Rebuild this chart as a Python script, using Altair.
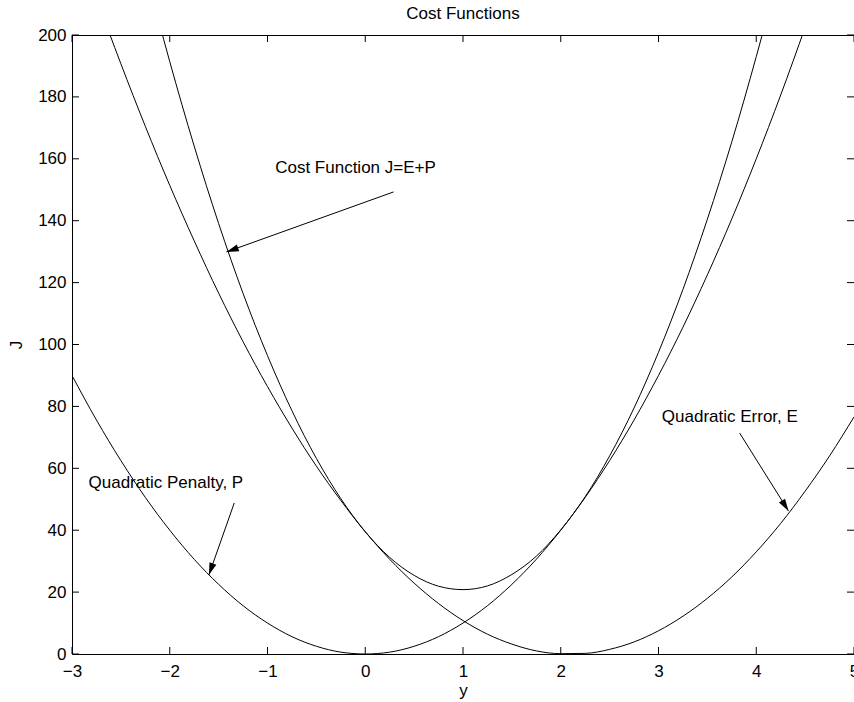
import math
import altair as alt
import pandas as pd

# Sample points along y for the three cost curves
y_vals = [-3, -2.75, -2.5, -2.25, -2, -1.75, -1.5, -1.25, -1, -0.75, -0.5, -0.25,
          0, 0.25, 0.5, 0.75, 1, 1.25, 1.5, 1.75, 2, 2.25, 2.5, 2.75,
          3, 3.25, 3.5, 3.75, 4, 4.25, 4.5, 4.75, 5]

penalty = [90, 75.6, 62.5, 50.6, 40, 30.6, 22.5, 15.6, 10, 5.6, 2.5, 0.6,
           0, 0.6, 2.5, 5.6, 10, 15.6, 22.5, 30.6, 40, 50.6, 62.5, 75.6,
           90, 105.6, 122.5, 140.6, 160, 180.6, 202.5, 225.6, 250]

error = [234.5, 212.0, 190.7, 170.5, 151.4, 133.5, 116.6, 100.9, 86.4, 73.0, 60.7, 49.6,
         39.5, 30.6, 22.9, 16.3, 10.8, 6.4, 3.2, 1.0, 0.1, 0.2, 1.5, 3.9,
         7.5, 12.2, 18.0, 24.9, 33.0, 42.2, 52.6, 64.0, 76.6]

cost = [324.5, 287.6, 253.2, 221.1, 191.4, 164.1, 139.1, 116.5, 96.4, 78.6, 63.2, 50.2,
        39.5, 31.2, 25.4, 21.9, 20.8, 22.0, 25.7, 31.6, 40.1, 50.8, 64.0, 79.5,
        97.5, 117.8, 140.5, 165.5, 193.0, 222.8, 255.1, 289.6, 326.6]

x_ticks = [-3, -2, -1, 0, 1, 2, 3, 4, 5]
y_ticks = [0, 20, 40, 60, 80, 100, 120, 140, 160, 180, 200]

# Annotation labels and their arrows (data units)
ann_text = ["Cost Function J=E+P", "Quadratic Error, E", "Quadratic Penalty, P"]
ann_x = [-0.10, 3.73, -2.04]
ann_y = [157, 76.6, 55.3]
arrow_x0 = [0.29, 3.83, -1.34]
arrow_y0 = [149.3, 71.4, 48.8]
arrow_x1 = [-1.42, 4.33, -1.60]
arrow_y1 = [129.9, 46.2, 25.5]

W, H = 782, 619
FONT = "Liberation Sans"
x_dom = [-3, 5]
y_dom = [0, 200]

curves = pd.DataFrame({
    "y": y_vals * 3,
    "J": penalty + error + cost,
    "series": ["P"] * len(y_vals) + ["E"] * len(y_vals) + ["J"] * len(y_vals),
})

# Arrowhead rotation in screen space
sx = W / (x_dom[1] - x_dom[0])
sy = H / (y_dom[1] - y_dom[0])
angles = []
for a, b, c, d in zip(arrow_x0, arrow_y0, arrow_x1, arrow_y1):
    dxp = (c - a) * sx
    dyp = -(d - b) * sy
    angles.append(math.degrees(math.atan2(dxp, -dyp)) % 360)

ann = pd.DataFrame({
    "text": ann_text, "tx": ann_x, "ty": ann_y,
    "x0": arrow_x0, "y0": arrow_y0, "x1": arrow_x1, "y1": arrow_y1,
    "angle": angles,
})

xs = alt.Scale(domain=x_dom, nice=False, zero=False)
ys = alt.Scale(domain=y_dom, nice=False, zero=False)

x_axis = alt.Axis(values=x_ticks, title="y", ticks=False, grid=False, format="d",
                  labelPadding=9, titlePadding=3, labelFlush=False)
y_axis = alt.Axis(values=y_ticks, title="J", ticks=False, grid=False, format="d",
                  labelPadding=6, titlePadding=12)

lines = alt.Chart(curves).mark_line(
    color="black", strokeWidth=1, clip=True, interpolate="monotone"
).encode(
    x=alt.X("y:Q", scale=xs, axis=x_axis),
    y=alt.Y("J:Q", scale=ys, axis=y_axis),
    detail="series:N",
)

xt = pd.DataFrame({"v": x_ticks})
yt = pd.DataFrame({"v": y_ticks})

tick_style = dict(color="black", strokeWidth=1)
ticks_bottom = alt.Chart(xt).mark_rule(**tick_style).encode(
    x=alt.X("v:Q", scale=xs), y=alt.value(H), y2=alt.value(H - 7))
ticks_top = alt.Chart(xt).mark_rule(**tick_style).encode(
    x=alt.X("v:Q", scale=xs), y=alt.value(0), y2=alt.value(7))
ticks_left = alt.Chart(yt).mark_rule(**tick_style).encode(
    y=alt.Y("v:Q", scale=ys), x=alt.value(0), x2=alt.value(7))
ticks_right = alt.Chart(yt).mark_rule(**tick_style).encode(
    y=alt.Y("v:Q", scale=ys), x=alt.value(W), x2=alt.value(W - 7))

top_edge = alt.Chart(xt).mark_rule(color="black", strokeWidth=1).encode(
    x=alt.value(0), x2=alt.value(W), y=alt.value(0.5))

arrow_lines = alt.Chart(ann).mark_rule(color="black", strokeWidth=1).encode(
    x=alt.X("x0:Q", scale=xs), y=alt.Y("y0:Q", scale=ys),
    x2="x1:Q", y2="y1:Q")

arrow_heads = alt.Chart(ann).mark_point(
    shape="M0,0L0.85,2.9L-0.85,2.9Z", filled=True, color="black", opacity=1,
    size=72, strokeWidth=0
).encode(
    x=alt.X("x1:Q", scale=xs), y=alt.Y("y1:Q", scale=ys),
    angle=alt.Angle("angle:Q", scale=None),
)

labels = alt.Chart(ann).mark_text(
    font=FONT, fontSize=17, color="black", align="center", baseline="middle"
).encode(
    x=alt.X("tx:Q", scale=xs), y=alt.Y("ty:Q", scale=ys), text="text:N")

chart = alt.layer(
    lines, ticks_bottom, ticks_top, ticks_left, ticks_right, top_edge,
    arrow_lines, arrow_heads, labels
).properties(
    width=W, height=H,
    title=alt.TitleParams("Cost Functions", font=FONT, fontSize=17,
                          fontWeight="normal", color="black", offset=3),
    autosize=alt.AutoSizeParams(type="none"),
    padding={"left": 72, "top": 35, "right": 0, "bottom": 48},
).configure(
    background="white"
).configure_view(
    stroke=None
).configure_axis(
    labelFont=FONT, labelFontSize=17, labelColor="black",
    titleFont=FONT, titleFontSize=17, titleColor="black", titleFontWeight="normal",
    domainColor="black", domainWidth=1,
)

chart.save("out.html", embed_options={"renderer": "svg", "actions": False})
